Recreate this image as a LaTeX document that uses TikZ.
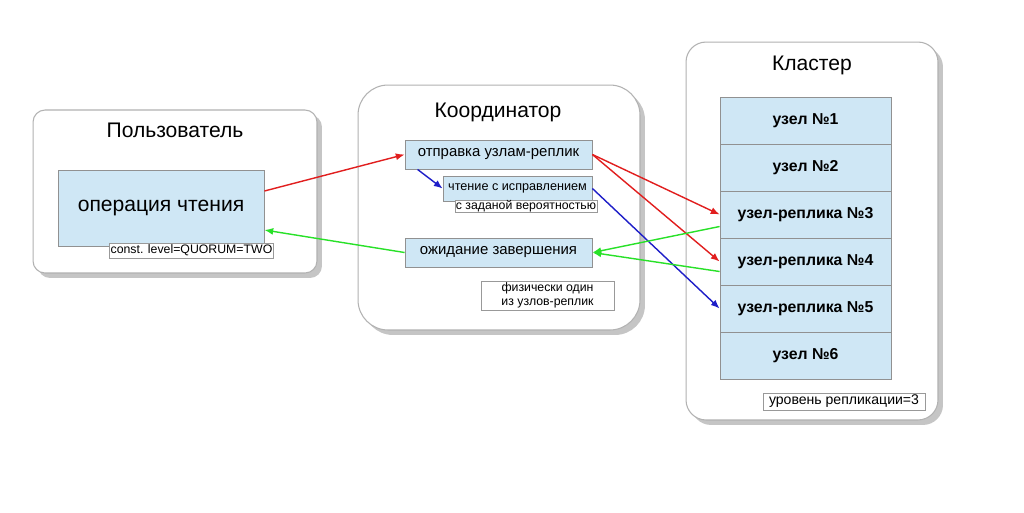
\documentclass[tikz,border=0pt]{standalone}
\usepackage{fontspec}
\setmainfont{Liberation Sans}
\definecolor{nodeblue}{RGB}{207,231,245}
\definecolor{edgegrey}{RGB}{145,145,145}
\definecolor{arrred}{RGB}{225,30,30}
\definecolor{arrgreen}{RGB}{40,225,40}
\definecolor{arrblue}{RGB}{30,30,200}
\usetikzlibrary{arrows.meta,shadows}

\begin{document}
\begin{tikzpicture}[x=0.02cm,y=-0.02cm,>={Latex[length=5pt,width=4pt]},
  panel/.style={draw=black!30,fill=white,rounded corners=#1,line width=0.6pt,
    drop shadow={shadow xshift=0.1cm,shadow yshift=-0.1cm,fill=black!45}},
  title/.style={font=\fontsize{12}{14}\selectfont},
  block/.style={draw=edgegrey,fill=nodeblue,inner sep=0,line width=0.5pt},
  cell/.style={draw=edgegrey,fill=nodeblue,minimum width=3.42cm,minimum height=0.94cm,
    inner sep=0,line width=0.5pt,font=\fontsize{9}{10}\selectfont\bfseries},
  note/.style={draw=black!40,fill=white,inner sep=0.5pt,font=\fontsize{7}{8}\selectfont},
  link/.style={->,line width=0.8pt}]
  \useasboundingbox[fill=white] (0,0) rectangle (1024,512);
  % panels
  \node[panel=0.24cm,minimum width=5.68cm,minimum height=3.26cm] (user) at (175,191.5) {};
  \node[panel=0.6cm,minimum width=5.64cm,minimum height=4.9cm] (coord) at (499,207.5) {};
  \node[panel=0.4cm,minimum width=5.04cm,minimum height=7.56cm] (cluster) at (812,231) {};
  \node[title] (usert) at (175,130) {Пользователь};
  \node[title] (coordt) at (498,112) {Координатор};
  \node[title] (clustert) at (812,65) {Кластер};
  % user
  \node[block,minimum width=4.12cm,minimum height=1.52cm,font=\fontsize{12}{14}\selectfont] (op) at (161,208) {операция чтения};
  \node[note,minimum width=3.26cm,minimum height=0.3cm] (level) at (191.5,250.5) {const. level=QUORUM=TWO};
  % coordinator
  \node[block,minimum width=3.74cm,minimum height=0.58cm,font=\fontsize{8.5}{10}\selectfont] (send) at (498.5,154.5) {отправка узлам-реплик};
  \node[block,minimum width=2.98cm,minimum height=0.5cm,font=\fontsize{7.2}{8}\selectfont] (read) at (517.5,188.5) {чтение с исправлением};
  \node[note,minimum width=2.84cm,minimum height=0.24cm,inner sep=0] (prob) at (526,206) {с заданой вероятностью};
  \node[block,minimum width=3.74cm,minimum height=0.58cm,font=\fontsize{8.5}{10}\selectfont] (wait) at (498.5,252.5) {ожидание завершения};
  \node[note,minimum width=2.66cm,minimum height=0.58cm,align=center] (phys) at (547.5,295.5) {физически один\\ из узлов-реплик};
  % cluster
  \node[cell] (n1) at (805.5,120.5) {узел №1};
  \node[cell] (n2) at (805.5,167.5) {узел №2};
  \node[cell] (n3) at (805.5,214.5) {узел-реплика №3};
  \node[cell] (n4) at (805.5,261.5) {узел-реплика №4};
  \node[cell] (n5) at (805.5,308.5) {узел-реплика №5};
  \node[cell] (n6) at (805.5,355.5) {узел №6};
  \node[note,minimum width=3.24cm,minimum height=0.34cm,font=\fontsize{8}{9}\selectfont] (repl) at (844,401.5) {уровень репликации=3};
  % arrows
  \draw[link,arrred] ([yshift=0.34cm]op.east) -- (send.west);
  \draw[link,arrred] (send.east) -- (n3.west);
  \draw[link,arrred] (send.east) -- (n4.west);
  \draw[link,arrblue] ([xshift=0.26cm]send.south west) -- (read.west);
  \draw[link,arrblue] (read.east) -- (n5.west);
  \draw[link,arrgreen] ([yshift=-0.24cm]n3.west) -- (wait.east);
  \draw[link,arrgreen] ([yshift=-0.2cm]n4.west) -- (wait.east);
  \draw[link,arrgreen] (wait.west) -- ([yshift=-0.44cm]op.east);
\end{tikzpicture}
\end{document}
